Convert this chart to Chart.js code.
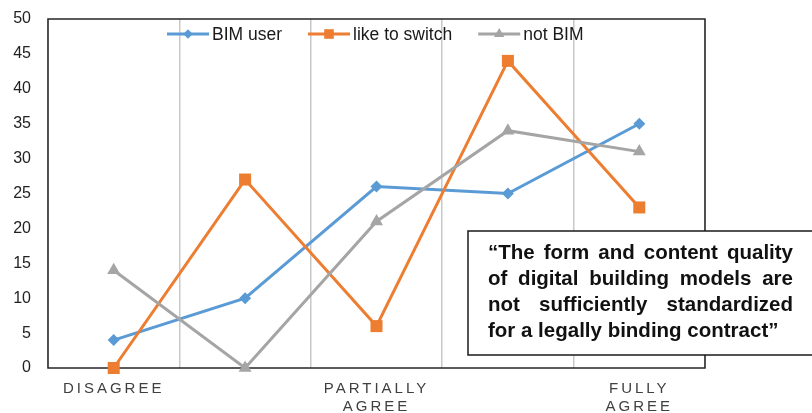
<!DOCTYPE html>
<html>
<head>
<meta charset="utf-8">
<script src="https://cdn.jsdelivr.net/npm/chart.js@4/dist/chart.umd.min.js"></script>
<style>
  body { margin: 0; background: #fff; }
  #wrap { width: 812px; height: 413px; position: relative; }
</style>
</head>
<body>
<div id="wrap"><canvas id="chart"></canvas></div>
<script>
// categories (only every other one carries a label)
const categories = ['DISAGREE', '', ['PARTIALLY', 'AGREE'], '', ['FULLY', 'AGREE']];
const seriesNames = ['BIM user', 'like to switch', 'not BIM'];
const bimUser = [4, 10, 26, 25, 35];
const likeToSwitch = [0, 27, 6, 44, 23];
const notBim = [14, 0, 21, 34, 31];
const yTicks = { min: 0, max: 50, step: 5 };
const quoteLines = [
  '\u201CThe form and content quality',
  'of digital building models are',
  'not sufficiently standardized',
  'for a legally binding contract\u201D'
];

const colors = ['#5b9bd5', '#ed7d31', '#a5a5a5'];
const styles = ['rectRot', 'rect', 'triangle'];
const radii = [6, 8.5, 7.5];
const FONT = '"Liberation Sans", Arial, sans-serif';

function drawMarker(ctx, style, x, y, r, color) {
  ctx.fillStyle = color;
  ctx.beginPath();
  if (style === 'rectRot') {
    ctx.moveTo(x, y - r); ctx.lineTo(x + r, y); ctx.lineTo(x, y + r); ctx.lineTo(x - r, y);
  } else if (style === 'rect') {
    const s = r * Math.SQRT1_2;
    ctx.rect(x - s, y - s, 2 * s, 2 * s);
  } else {
    const h = r * Math.sqrt(3) / 2;
    ctx.moveTo(x, y - r); ctx.lineTo(x + h, y + r / 2); ctx.lineTo(x - h, y + r / 2);
  }
  ctx.closePath();
  ctx.fill();
}

// black frame round the plot area
const framePlugin = {
  id: 'frame',
  beforeDatasetsDraw(chart) {
    const { ctx, chartArea: a } = chart;
    ctx.save();
    ctx.strokeStyle = '#262626';
    ctx.lineWidth = 1.5;
    ctx.strokeRect(a.left, a.top, a.right - a.left, a.bottom - a.top);
    ctx.restore();
  }
};

// spaced out capitals on the x axis
const spacingPlugin = {
  id: 'spacing',
  beforeDraw(chart) {
    const s = chart.scales.x;
    if (s && !s._spaced) {
      const orig = s.drawLabels.bind(s);
      s.drawLabels = function (area) {
        chart.ctx.save();
        chart.ctx.letterSpacing = '3px';
        orig(area);
        chart.ctx.restore();
      };
      s._spaced = true;
    }
  }
};

// legend inside the plot, line + marker
const legendPlugin = {
  id: 'inlegend',
  afterDatasetsDraw(chart) {
    const ctx = chart.ctx;
    ctx.save();
    ctx.font = '17.5px ' + FONT;
    ctx.textBaseline = 'middle';
    let x = 167;
    const y = 34;
    chart.data.datasets.forEach((ds, i) => {
      ctx.strokeStyle = colors[i];
      ctx.lineWidth = 3;
      ctx.beginPath();
      ctx.moveTo(x, y); ctx.lineTo(x + 42, y);
      ctx.stroke();
      drawMarker(ctx, styles[i], x + 21, y, radii[i] * 0.8, colors[i]);
      ctx.fillStyle = '#1a1a1a';
      ctx.fillText(ds.label, x + 45, y + 1);
      x += 45 + ctx.measureText(ds.label).width + 26;
    });
    ctx.restore();
  }
};

// quote box, justified bold text
const quotePlugin = {
  id: 'quote',
  afterDraw(chart) {
    const ctx = chart.ctx;
    ctx.save();
    ctx.fillStyle = '#fff';
    ctx.fillRect(468, 231, 360, 124);
    ctx.strokeStyle = '#1a1a1a';
    ctx.lineWidth = 1.5;
    ctx.strokeRect(468, 231, 360, 124);
    ctx.font = 'bold 20.5px ' + FONT;
    ctx.fillStyle = '#111';
    ctx.textBaseline = 'alphabetic';
    const left = 488, width = 305;
    quoteLines.forEach((line, li) => {
      const yb = 259 + li * 26;
      const words = line.split(' ');
      if (li === quoteLines.length - 1) {
        ctx.fillText(line, left, yb);
        return;
      }
      const wsum = words.reduce((s, w) => s + ctx.measureText(w).width, 0);
      const gap = (width - wsum) / (words.length - 1);
      let x = left;
      words.forEach(w => {
        ctx.fillText(w, x, yb);
        x += ctx.measureText(w).width + gap;
      });
    });
    ctx.restore();
  }
};

const series = [bimUser, likeToSwitch, notBim];
new Chart(document.getElementById('chart'), {
  type: 'line',
  data: {
    labels: categories,
    datasets: series.map((d, i) => ({
      label: seriesNames[i],
      data: d,
      borderColor: colors[i],
      backgroundColor: colors[i],
      pointBackgroundColor: colors[i],
      pointBorderColor: colors[i],
      pointStyle: styles[i],
      pointRadius: radii[i],
      pointBorderWidth: 0,
      borderWidth: 3,
      tension: 0,
      clip: false,
      order: 2 - i
    }))
  },
  options: {
    responsive: true,
    maintainAspectRatio: false,
    animation: false,
    layout: { autoPadding: false, padding: { top: 19, right: 107, left: 0, bottom: 0 } },
    plugins: { legend: { display: false }, tooltip: { enabled: false } },
    scales: {
      x: {
        offset: true,
        grid: { offset: true, color: '#c8c8c8', lineWidth: 1.5, drawTicks: false },
        border: { display: false },
        ticks: {
          autoSkip: false, maxRotation: 0, padding: 12,
          color: '#404040', font: { family: FONT, size: 15 }
        },
        afterFit(s) { s.height = 45; }
      },
      y: {
        min: yTicks.min, max: yTicks.max,
        grid: { display: false, drawTicks: false },
        border: { display: false },
        ticks: {
          stepSize: yTicks.step, padding: 17,
          color: '#222', font: { family: FONT, size: 16 }
        },
        afterFit(s) { s.width = 48; s.paddingTop = 0; s.paddingBottom = 0; }
      }
    }
  },
  plugins: [spacingPlugin, framePlugin, legendPlugin, quotePlugin]
});
</script>
</body>
</html>
